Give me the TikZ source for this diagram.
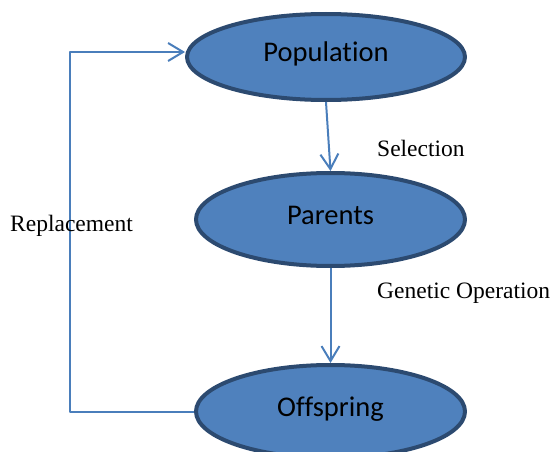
\documentclass[tikz,border=0pt]{standalone}
\usepackage{fontspec}
\setmainfont{Liberation Serif}
\newfontfamily\calib[Ligatures=NoCommon]{Carlito}
\usetikzlibrary{arrows.meta,shapes.geometric}
\definecolor{boxfill}{HTML}{4F81BD}
\definecolor{boxline}{HTML}{2C4A70}
\definecolor{linkblue}{HTML}{4A7EBB}
\tikzset{
	stage/.style={ellipse, draw=boxline, fill=boxfill, line width=4pt, inner sep=0pt,
		font=\calib\fontsize{28.5}{30}\selectfont, text height=18.5pt, text depth=8.5pt},
	link/.style={draw=linkblue, line width=2pt, ->},
	tag/.style={anchor=west, inner sep=0pt, font=\fontsize{23.5}{25}\selectfont}
}
\begin{document}
\begin{tikzpicture}[x=1pt, y=-1pt, >={Straight Barb[length=15pt,width=18pt]}, line join=round]
	\useasboundingbox (0,0) rectangle (555,452);
	% Hình elip
	\node[stage, minimum width=278pt, minimum height=86pt] (pop) at (326,57) {Population};
	\node[stage, minimum width=269pt, minimum height=93pt] (par) at (330.5,219.5) {Parents};
	\node[stage, minimum width=269pt, minimum height=93pt] (off) at (330.5,411.5) {Offspring};
	% Mũi tên
	\draw[link] (pop.south) -- (par.north);
	\draw[link] (par.south) -- (off.north);
	\draw[link] (off.west) -- ++(-124,0) |- ([yshift=5pt]pop.west);
	% Nhãn
	\node[tag] (sel) at (377,148) {Selection};
	\node[tag] (gen) at (377,293) {Genetic Operation};
	\node[tag] (rep) at (10,226) {Replacement};
\end{tikzpicture}
\end{document}
